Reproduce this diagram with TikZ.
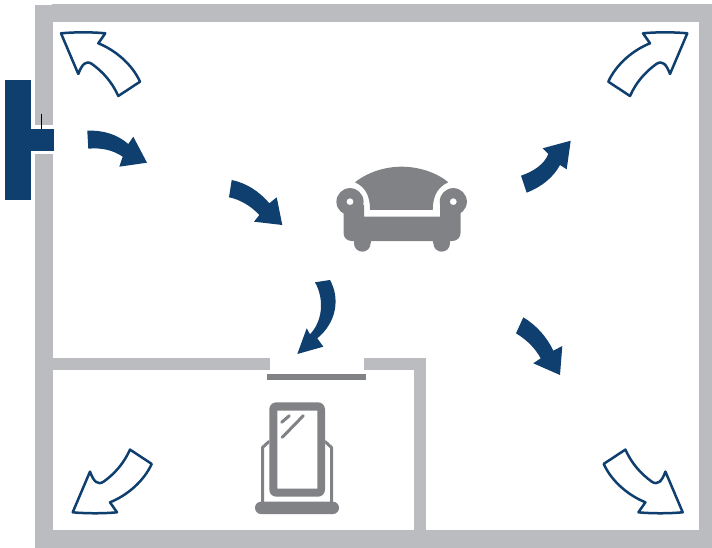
\documentclass[tikz,border=0pt]{standalone}
\usepackage{tikz}
\definecolor{wallgray}{HTML}{BBBCBF}
\definecolor{furngray}{HTML}{808285}
\definecolor{airblue}{HTML}{0F3F6E}
\tikzset{
  wall/.style={
    fill=wallgray
  },
  furniture/.style={
    fill=furngray
  },
  furnline/.style={
    draw=furngray,
    line cap=round,
    line join=round
  },
  airflow/.style={
    fill=airblue
  },
  draftarrow/.style={
    draw=airblue,
    line width=2.5pt,
    line join=round,
    fill=white
  }
}
\begin{document}
\begin{tikzpicture}[x=1pt,y=-1pt]
    \useasboundingbox (0,0) rectangle (712,548);
    % walls
    \foreach \xa/\ya/\xb/\yb in {35/5/53/125,35/154/53/548,52/4/712/22,699/4/712/548,35/530/712/548,
        53/358/270/370,364/358/426/370,414/358/426/530}{
            \fill[wall] (\xa,\ya) rectangle (\xb,\yb);
        }
    % door
    \fill[furniture] (267,374) rectangle (366,380);
    % wall unit
    \fill[airflow] (5,80) rectangle (31,200);
    \fill[airflow] (31,129) rectangle (54,151);
    \draw[black,line width=1pt] (41,114) -- (41,129);
    % sofa
    \fill[furniture] (355,182.3) .. controls (368,172) and (385,166.7) .. (401.7,166.7)
        .. controls (418,166.7) and (436,172) .. (448.3,182.3)
        .. controls (438,187) and (433,195) .. (432.7,210) -- (370,210)
        .. controls (370,195) and (365,187) .. (355,182.3) -- cycle;
    \fill[furniture] (343.5,205) [rounded corners=8pt] -- (343.5,241) -- (460.5,241) [sharp corners] -- (460.5,205)
        -- (440,205) -- (440,216.7) -- (364,216.7) -- (364,205) -- cycle;
    \foreach \x in {350,453.3}{
        \fill[furniture,even odd rule] (\x,201.7) circle (13.6) (\x,201.7) circle (3.5);
    }
    \foreach \x in {362.3,441.7}{
        \fill[furniture] (\x-8.3,238) rectangle (\x+8.3,243.4);
        \fill[furniture] (\x,243.4) circle (8.3);
    }
    % mirror
    \draw[furnline,line width=3pt] (269,441.5) -- (262.5,447.5) -- (262.5,503);
    \draw[furnline,line width=3pt] (325,441.5) -- (331.5,447.5) -- (331.5,503);
    \fill[furniture,rounded corners=6pt] (255,501.7) rectangle (339,514);
    \fill[white,rounded corners=6pt] (269.3,402.3) rectangle (325,496.7);
    \fill[furniture,even odd rule] [rounded corners=7pt] (269.3,402.3) rectangle (325,496.7)
        [sharp corners] (277.3,410.7) rectangle (317.3,488.7);
    \draw[furnline,line width=3pt] (281.7,422.3) -- (289.3,415.7);
    \draw[furnline,line width=3pt] (282.3,437.3) -- (303.3,415.7);
    % arrows in the room
    \fill[airflow] (87.3,130.7) .. controls (102,130) and (117,134) .. (128.3,144) -- (133.3,136.7) -- (147,162.7)
        -- (119.3,166.7) -- (122.7,156.7) .. controls (113,150) and (101,147.5) .. (88.3,148.7) -- cycle;
    \fill[airflow] (231.7,180) .. controls (246,183) and (259,191) .. (269.3,203.3) -- (276.7,197.3) -- (282.3,225)
        -- (254,221.7) -- (259.3,215) .. controls (251,206) and (240,199.5) .. (229,197.3) -- cycle;
    \fill[airflow] (330,280) .. controls (340,298) and (337,322) .. (317.3,338.3) -- (323.3,346.7) -- (297.3,354)
        -- (306.7,328.3) -- (310,334.3) .. controls (322,322) and (325,300) .. (315,282.3) -- cycle;
    \fill[airflow] (521,175.7) .. controls (532,172) and (544,165) .. (548.3,154) -- (542.7,148.3) -- (570.7,140.7)
        -- (566.7,169.3) -- (560,165) .. controls (553,178) and (541,187) .. (526.7,192.7) -- cycle;
    \fill[airflow] (523.3,317.3) .. controls (536,325) and (547,337) .. (553.3,350.7) -- (562.3,346) -- (560,375)
        -- (533.3,363.3) -- (540.7,358.3) .. controls (535,348) and (527,340) .. (516,333.3) -- cycle;
    % arrows in the corners
    \foreach \sx/\sy/\dx/\dy in {1/1/0/0,-1/1/748.3/0,1/-1/11.7/545.6,-1/-1/743.7/545.6}{
        \begin{scope}[shift={(\dx,\dy)},xscale=\sx,yscale=\sy]
            \draw[draftarrow] (61,33.3) .. controls (75,32) and (92,32) .. (105.3,33.3) -- (98.3,43.3)
                .. controls (115,50) and (132,64) .. (140,81.7) -- (118.3,96)
                .. controls (112,82) and (103,72) .. (92,64) .. controls (86,60) and (82,64) .. (78.3,74) -- cycle;
        \end{scope}
    }
\end{tikzpicture}
\end{document}
